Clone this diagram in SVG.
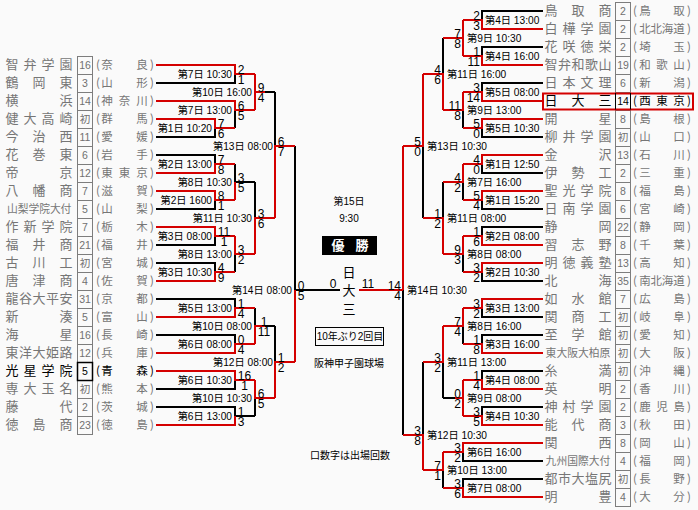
<svg xmlns="http://www.w3.org/2000/svg" width="698" height="510" viewBox="0 0 698 510">
<style>
text{font-family:"Liberation Sans","Noto Sans CJK JP",sans-serif;fill:#000}
.n{font-size:13px;fill:#767676;text-anchor:middle;font-family:"Noto Sans CJK JP",sans-serif}
.n6{font-size:10.8px}
.p{font-size:11.5px;fill:#767676;text-anchor:middle;font-family:"Noto Sans CJK JP",sans-serif}
.c{font-size:10.5px;fill:#707070;text-anchor:middle}
.b{fill:none;stroke:#7d7d7d;stroke-width:1}
.k{fill:none;stroke:#000;stroke-width:1.5}
.d{fill:#000}
.L{stroke:#000;stroke-width:2;fill:none}
.R{stroke:#d40000;stroke-width:2;fill:none}
.m{font-size:10.2px}
.e{text-anchor:end}
.s{font-size:12px}
.t{text-anchor:middle}
.f{font-size:10px;text-anchor:middle}
</style>
<rect width="698" height="510" fill="#fafafa"/>
<g id="connectors">
<path class="L" d="M156 83H235V74M156 137H215V128M235 128V110M265 92H275M156 155H215V164M156 209H215V200M235 164V182H255M156 245H215V236M156 263H215V272M235 272V254M255 182V218M275 92V146M295 146V290H340M156 299H235V308M156 335H235V344M255 308V326H275M156 389H235V380M156 407H235V416H255M255 416V398M275 326V362"/>
<path class="L" d="M543 11H482V20M543 47H482V56M543 83H482V92M543 137H482V128M463 128V110M443 38V74M423 146V218M543 173H482V164M543 209H482V200M463 200V182M543 227H482V236M543 281H482V272M463 272V254M443 182V218M403 290V435M543 317H482V308M543 335H482V344M463 344V326M543 371H482V380M543 407H482V416M455 398H443M443 398V362M543 461H463V452M543 479H463V488M443 488V470M423 362V435"/>
<path class="R" d="M156 65H235V74H255M156 119H215V128H235M156 101H235V110H255M255 74V110M255 92H265M156 173H215V164H235M156 191H215V200H235M235 200V182M156 227H215V236H235M156 281H215V272H235M235 236V254H255M255 254V218H275M275 218V146H295M295 362V290M156 317H235V308H255M156 353H235V344H255M255 344V326H265M156 371H235V380H255M156 425H235V416M255 380V398H275M275 398V362H295"/>
<path class="R" d="M543 29H482V20H463M543 65H482V56H463M463 20V56M463 38H443M542 101H482V92H463M543 119H482V128H463M463 92V110H443M443 110V74H423M423 74V146H403M543 155H482V164H463M543 191H482V200H463M463 164V182H443M543 245H482V236H463M543 263H482V272H463M463 236V254H443M443 254V218H423M403 146V290M359 290H403M543 299H482V308H463M543 353H482V344H463M463 308V326H443M543 389H482V380H463M543 425H482V416H463M463 380V416M463 398H455M443 326V362H423M543 443H463V452H443M543 497H463V488H443M443 452V470H423M423 470V435H403"/>
</g>
<g id="left-teams">
<g id="L01"><rect class="b" x="77.5" y="56.5" width="15" height="18"/><text class="n" x="12 30 48 66" y="69">智弁学園</text><text class="c" x="85" y="69">16</text><text class="p" x="98 107 142 152" y="69">(奈良)</text></g>
<g id="L02"><rect class="b" x="77.5" y="74.5" width="15" height="18"/><text class="n" x="12 39 66" y="87">鶴岡東</text><text class="c" x="85" y="87">3</text><text class="p" x="98 107 142 152" y="87">(山形)</text></g>
<g id="L03"><rect class="b" x="77.5" y="92.5" width="15" height="18"/><text class="n" x="12 66" y="105">横浜</text><text class="c" x="85" y="105">14</text><text class="p" x="98 107 124.5 142 152" y="105">(神奈川)</text></g>
<g id="L04"><rect class="b" x="77.5" y="110.5" width="15" height="18"/><text class="n" x="12 30 48 66" y="123">健大高崎</text><text class="c" x="85" y="123">初</text><text class="p" x="98 107 142 152" y="123">(群馬)</text></g>
<g id="L05"><rect class="b" x="77.5" y="128.5" width="15" height="18"/><text class="n" x="12 39 66" y="141">今治西</text><text class="c" x="85" y="141">11</text><text class="p" x="98 107 142 152" y="141">(愛媛)</text></g>
<g id="L06"><rect class="b" x="77.5" y="146.5" width="15" height="18"/><text class="n" x="12 39 66" y="159">花巻東</text><text class="c" x="85" y="159">6</text><text class="p" x="98 107 142 152" y="159">(岩手)</text></g>
<g id="L07"><rect class="b" x="77.5" y="164.5" width="15" height="18"/><text class="n" x="12 66" y="177">帝京</text><text class="c" x="85" y="177">12</text><text class="p" x="98 107 124.5 142 152" y="177">(東東京)</text></g>
<g id="L08"><rect class="b" x="77.5" y="182.5" width="15" height="18"/><text class="n" x="12 39 66" y="195">八幡商</text><text class="c" x="85" y="195">7</text><text class="p" x="98 107 142 152" y="195">(滋賀)</text></g>
<g id="L09"><rect class="b" x="77.5" y="200.5" width="15" height="18"/><text class="n n6" x="12.5 23.2 33.9 44.6 55.3 66" y="213">山梨学院大付</text><text class="c" x="85" y="213">5</text><text class="p" x="98 107 142 152" y="213">(山梨)</text></g>
<g id="L10"><rect class="b" x="77.5" y="218.5" width="15" height="18"/><text class="n" x="12 30 48 66" y="231">作新学院</text><text class="c" x="85" y="231">7</text><text class="p" x="98 107 142 152" y="231">(栃木)</text></g>
<g id="L11"><rect class="b" x="77.5" y="236.5" width="15" height="18"/><text class="n" x="12 39 66" y="249">福井商</text><text class="c" x="85" y="249">21</text><text class="p" x="98 107 142 152" y="249">(福井)</text></g>
<g id="L12"><rect class="b" x="77.5" y="254.5" width="15" height="18"/><text class="n" x="12 39 66" y="267">古川工</text><text class="c" x="85" y="267">初</text><text class="p" x="98 107 142 152" y="267">(宮城)</text></g>
<g id="L13"><rect class="b" x="77.5" y="272.5" width="15" height="18"/><text class="n" x="12 39 66" y="285">唐津商</text><text class="c" x="85" y="285">4</text><text class="p" x="98 107 142 152" y="285">(佐賀)</text></g>
<g id="L14"><rect class="b" x="77.5" y="290.5" width="15" height="18"/><text class="n" x="12 25.5 39 52.5 66" y="303">龍谷大平安</text><text class="c" x="85" y="303">31</text><text class="p" x="98 107 142 152" y="303">(京都)</text></g>
<g id="L15"><rect class="b" x="77.5" y="308.5" width="15" height="18"/><text class="n" x="12 66" y="321">新湊</text><text class="c" x="85" y="321">5</text><text class="p" x="98 107 142 152" y="321">(富山)</text></g>
<g id="L16"><rect class="b" x="77.5" y="326.5" width="15" height="18"/><text class="n" x="12 66" y="339">海星</text><text class="c" x="85" y="339">16</text><text class="p" x="98 107 142 152" y="339">(長崎)</text></g>
<g id="L17"><rect class="b" x="77.5" y="344.5" width="15" height="18"/><text class="n" x="12 25.5 39 52.5 66" y="357">東洋大姫路</text><text class="c" x="85" y="357">12</text><text class="p" x="98 107 142 152" y="357">(兵庫)</text></g>
<g id="L19"><rect class="b" x="77.5" y="380.5" width="15" height="18"/><text class="n" x="12 30 48 66" y="393">専大玉名</text><text class="c" x="85" y="393">初</text><text class="p" x="98 107 142 152" y="393">(熊本)</text></g>
<g id="L20"><rect class="b" x="77.5" y="398.5" width="15" height="18"/><text class="n" x="12 66" y="411">藤代</text><text class="c" x="85" y="411">2</text><text class="p" x="98 107 142 152" y="411">(茨城)</text></g>
<g id="L21"><rect class="b" x="77.5" y="416.5" width="15" height="18"/><text class="n" x="12 39 66" y="429">徳島商</text><text class="c" x="85" y="429">23</text><text class="p" x="98 107 142 152" y="429">(徳島)</text></g>
<g id="L18"><rect class="k" x="77.5" y="362.5" width="15" height="18"/><text class="n d" x="12 30 48 66" y="375" style="fill:#000">光星学院</text><text class="c" x="85" y="375" style="fill:#000">5</text><text class="p" x="98 107 142 152" y="375" style="fill:#000">(青森)</text></g>
</g>
<g id="right-teams">
<g id="R01"><rect class="b" x="615.5" y="2.5" width="15" height="18"/><text class="n" x="551 578 605" y="15">鳥取商</text><text class="c" x="623" y="15">2</text><text class="p" x="635 645 679 689" y="15">(鳥取)</text></g>
<g id="R02"><rect class="b" x="615.5" y="20.5" width="15" height="18"/><text class="n" x="551 569 587 605" y="33">白樺学園</text><text class="c" x="623" y="33">2</text><text class="p" x="635 645 656.3 667.6 679 689" y="33">(北北海道)</text></g>
<g id="R03"><rect class="b" x="615.5" y="38.5" width="15" height="18"/><text class="n" x="551 569 587 605" y="51">花咲徳栄</text><text class="c" x="623" y="51">2</text><text class="p" x="635 645 679 689" y="51">(埼玉)</text></g>
<g id="R04"><rect class="b" x="615.5" y="56.5" width="15" height="18"/><text class="n" x="551 564.5 578 591.5 605" y="69">智弁和歌山</text><text class="c" x="623" y="69">19</text><text class="p" x="635 645 662 679 689" y="69">(和歌山)</text></g>
<g id="R05"><rect class="b" x="615.5" y="74.5" width="15" height="18"/><text class="n" x="551 569 587 605" y="87">日本文理</text><text class="c" x="623" y="87">6</text><text class="p" x="635 645 679 689" y="87">(新潟)</text></g>
<g id="R07"><rect class="b" x="615.5" y="110.5" width="15" height="18"/><text class="n" x="551 605" y="123">開星</text><text class="c" x="623" y="123">8</text><text class="p" x="635 645 679 689" y="123">(島根)</text></g>
<g id="R08"><rect class="b" x="615.5" y="128.5" width="15" height="18"/><text class="n" x="551 569 587 605" y="141">柳井学園</text><text class="c" x="623" y="141">初</text><text class="p" x="635 645 679 689" y="141">(山口)</text></g>
<g id="R09"><rect class="b" x="615.5" y="146.5" width="15" height="18"/><text class="n" x="551 605" y="159">金沢</text><text class="c" x="623" y="159">13</text><text class="p" x="635 645 679 689" y="159">(石川)</text></g>
<g id="R10"><rect class="b" x="615.5" y="164.5" width="15" height="18"/><text class="n" x="551 578 605" y="177">伊勢工</text><text class="c" x="623" y="177">2</text><text class="p" x="635 645 679 689" y="177">(三重)</text></g>
<g id="R11"><rect class="b" x="615.5" y="182.5" width="15" height="18"/><text class="n" x="551 569 587 605" y="195">聖光学院</text><text class="c" x="623" y="195">8</text><text class="p" x="635 645 679 689" y="195">(福島)</text></g>
<g id="R12"><rect class="b" x="615.5" y="200.5" width="15" height="18"/><text class="n" x="551 569 587 605" y="213">日南学園</text><text class="c" x="623" y="213">6</text><text class="p" x="635 645 679 689" y="213">(宮崎)</text></g>
<g id="R13"><rect class="b" x="615.5" y="218.5" width="15" height="18"/><text class="n" x="551 605" y="231">静岡</text><text class="c" x="623" y="231">22</text><text class="p" x="635 645 679 689" y="231">(静岡)</text></g>
<g id="R14"><rect class="b" x="615.5" y="236.5" width="15" height="18"/><text class="n" x="551 578 605" y="249">習志野</text><text class="c" x="623" y="249">8</text><text class="p" x="635 645 679 689" y="249">(千葉)</text></g>
<g id="R15"><rect class="b" x="615.5" y="254.5" width="15" height="18"/><text class="n" x="551 569 587 605" y="267">明徳義塾</text><text class="c" x="623" y="267">13</text><text class="p" x="635 645 679 689" y="267">(高知)</text></g>
<g id="R16"><rect class="b" x="615.5" y="272.5" width="15" height="18"/><text class="n" x="551 605" y="285">北海</text><text class="c" x="623" y="285">35</text><text class="p" x="635 645 656.3 667.6 679 689" y="285">(南北海道)</text></g>
<g id="R17"><rect class="b" x="615.5" y="290.5" width="15" height="18"/><text class="n" x="551 578 605" y="303">如水館</text><text class="c" x="623" y="303">7</text><text class="p" x="635 645 679 689" y="303">(広島)</text></g>
<g id="R18"><rect class="b" x="615.5" y="308.5" width="15" height="18"/><text class="n" x="551 578 605" y="321">関商工</text><text class="c" x="623" y="321">初</text><text class="p" x="635 645 679 689" y="321">(岐阜)</text></g>
<g id="R19"><rect class="b" x="615.5" y="326.5" width="15" height="18"/><text class="n" x="551 578 605" y="339">至学館</text><text class="c" x="623" y="339">初</text><text class="p" x="635 645 679 689" y="339">(愛知)</text></g>
<g id="R20"><rect class="b" x="615.5" y="344.5" width="15" height="18"/><text class="n n6" x="551 561.8 572.6 583.4 594.2 605" y="357">東大阪大柏原</text><text class="c" x="623" y="357">初</text><text class="p" x="635 645 679 689" y="357">(大阪)</text></g>
<g id="R21"><rect class="b" x="615.5" y="362.5" width="15" height="18"/><text class="n" x="551 605" y="375">糸満</text><text class="c" x="623" y="375">初</text><text class="p" x="635 645 679 689" y="375">(沖縄)</text></g>
<g id="R22"><rect class="b" x="615.5" y="380.5" width="15" height="18"/><text class="n" x="551 605" y="393">英明</text><text class="c" x="623" y="393">2</text><text class="p" x="635 645 679 689" y="393">(香川)</text></g>
<g id="R23"><rect class="b" x="615.5" y="398.5" width="15" height="18"/><text class="n" x="551 569 587 605" y="411">神村学園</text><text class="c" x="623" y="411">2</text><text class="p" x="635 645 662 679 689" y="411">(鹿児島)</text></g>
<g id="R24"><rect class="b" x="615.5" y="416.5" width="15" height="18"/><text class="n" x="551 578 605" y="429">能代商</text><text class="c" x="623" y="429">3</text><text class="p" x="635 645 679 689" y="429">(秋田)</text></g>
<g id="R25"><rect class="b" x="615.5" y="434.5" width="15" height="18"/><text class="n" x="551 605" y="447">関西</text><text class="c" x="623" y="447">8</text><text class="p" x="635 645 679 689" y="447">(岡山)</text></g>
<g id="R26"><rect class="b" x="615.5" y="452.5" width="15" height="18"/><text class="n n6" x="551 561.8 572.6 583.4 594.2 605" y="465">九州国際大付</text><text class="c" x="623" y="465">4</text><text class="p" x="635 645 679 689" y="465">(福岡)</text></g>
<g id="R27"><rect class="b" x="615.5" y="470.5" width="15" height="18"/><text class="n" x="551 564.5 578 591.5 605" y="483">都市大塩尻</text><text class="c" x="623" y="483">初</text><text class="p" x="635 645 679 689" y="483">(長野)</text></g>
<g id="R28"><rect class="b" x="615.5" y="488.5" width="15" height="18"/><text class="n" x="551 605" y="501">明豊</text><text class="c" x="623" y="501">4</text><text class="p" x="635 645 679 689" y="501">(大分)</text></g>
<g id="R06"><rect x="543" y="93.5" width="150" height="16" fill="none" stroke="#d40000" stroke-width="2"/><path d="M615.5 93V109.5M630.5 93V109.5" stroke="#000" stroke-width="1" fill="none"/><text class="n" x="551 578 605" y="105" style="fill:#000">日大三</text><text class="c" x="623" y="105" style="fill:#000">14</text><text class="p" x="635 645 662 679 689" y="105" style="fill:#000">(西東京)</text></g>
</g>
<g id="match-labels" class="m">
<text class="e" x="232" y="78">第7日 10:30</text>
<text class="e" x="212" y="132">第1日 10:20</text>
<text class="e" x="232" y="114">第7日 13:00</text>
<text class="e" x="252" y="96">第10日 16:00</text>
<text class="e" x="212" y="168">第2日 13:00</text>
<text class="e" x="212" y="204">第2日 1600</text>
<text class="e" x="232" y="186">第8日 10:30</text>
<text class="e" x="212" y="240">第3日 08:00</text>
<text class="e" x="212" y="276">第3日 10:30</text>
<text class="e" x="232" y="258">第8日 13:00</text>
<text class="e" x="252" y="222">第11日 10:30</text>
<text class="e" x="273" y="150">第13日 08:00</text>
<text class="e" x="292" y="294">第14日 08:00</text>
<text class="e" x="232" y="312">第5日 13:00</text>
<text class="e" x="232" y="348">第6日 08:00</text>
<text class="e" x="252" y="330">第10日 08:00</text>
<text class="e" x="232" y="384">第6日 10:30</text>
<text class="e" x="232" y="420">第6日 13:00</text>
<text class="e" x="252" y="402">第10日 10:30</text>
<text class="e" x="273" y="366">第12日 08:00</text>
<text x="485" y="24">第4日 13:00</text>
<text x="485" y="60">第4日 16:00</text>
<text x="467" y="42">第9日 10:30</text>
<text x="485" y="96">第5日 08:00</text>
<text x="485" y="132">第5日 10:30</text>
<text x="467" y="114">第9日 13:00</text>
<text x="447" y="78">第11日 16:00</text>
<text x="427" y="150">第13日 10:30</text>
<text x="485" y="168">第1日 12:50</text>
<text x="485" y="204">第1日 15:20</text>
<text x="467" y="186">第7日 16:00</text>
<text x="485" y="240">第2日 08:00</text>
<text x="485" y="276">第2日 10:30</text>
<text x="467" y="258">第8日 08:00</text>
<text x="447" y="222">第11日 08:00</text>
<text x="407" y="294">第14日 10:30</text>
<text x="485" y="312">第3日 13:00</text>
<text x="485" y="348">第3日 16:00</text>
<text x="467" y="330">第8日 16:00</text>
<text x="485" y="384">第4日 08:00</text>
<text x="485" y="420">第4日 10:30</text>
<text x="467" y="402">第9日 08:00</text>
<text x="447" y="366">第11日 13:00</text>
<text x="467" y="456">第6日 16:00</text>
<text x="467" y="492">第7日 08:00</text>
<text x="447" y="474">第10日 13:00</text>
<text x="427" y="439">第12日 10:30</text>
</g>
<g id="scores" class="s">
<g class="t">
<text x="241" y="73.5">2</text><text x="241" y="84">1</text>
<text x="221" y="127.5">7</text><text x="221" y="138">6</text>
<text x="241" y="109.5">6</text><text x="241" y="120">5</text>
<text x="261" y="91.5">9</text><text x="261" y="102">4</text>
<text x="221" y="163.5">7</text><text x="221" y="174">8</text>
<text x="221" y="199.5">8</text><text x="221" y="210">1</text>
<text x="241" y="181.5">3</text><text x="241" y="192">5</text>
<text x="224" y="235.5">11</text><text x="224" y="246">1</text>
<text x="221" y="271.5">4</text><text x="221" y="282">9</text>
<text x="241" y="253.5">3</text><text x="241" y="264">2</text>
<text x="261" y="217.5">3</text><text x="261" y="228">6</text>
<text x="281" y="145.5">6</text><text x="281" y="156">7</text>
<text x="301" y="289.5">0</text><text x="301" y="300">5</text>
<text x="241" y="307.5">1</text><text x="241" y="318">4</text>
<text x="241" y="343.5">0</text><text x="241" y="354">4</text>
<text x="264" y="325.5">1</text><text x="264" y="336">11</text>
<text x="244.5" y="379.5">16</text><text x="244.5" y="390">1</text>
<text x="241" y="415.5">1</text><text x="241" y="426">3</text>
<text x="261" y="397.5">6</text><text x="261" y="408">5</text>
<text x="281" y="361.5">1</text><text x="281" y="372">2</text>
<text x="333" y="288">0</text><text x="368" y="288">11</text>
</g>
<g class="e">
<text x="480" y="19.5">2</text><text x="480" y="30">3</text>
<text x="480" y="55.5">1</text><text x="480" y="66">11</text>
<text x="461" y="37.5">7</text><text x="461" y="48">8</text>
<text x="480" y="91.5">3</text><text x="480" y="102">14</text>
<text x="480" y="127.5">5</text><text x="480" y="138">0</text>
<text x="461" y="109.5">11</text><text x="461" y="120">8</text>
<text x="441" y="73.5">4</text><text x="441" y="84">6</text>
<text x="421" y="145.5">5</text><text x="421" y="156">0</text>
<text x="480" y="163.5">4</text><text x="480" y="174">0</text>
<text x="480" y="199.5">5</text><text x="480" y="210">4</text>
<text x="461" y="181.5">4</text><text x="461" y="192">2</text>
<text x="480" y="235.5">1</text><text x="480" y="246">6</text>
<text x="480" y="271.5">3</text><text x="480" y="282">2</text>
<text x="461" y="253.5">9</text><text x="461" y="264">3</text>
<text x="441" y="217.5">1</text><text x="441" y="228">2</text>
<text x="401" y="289.5">14</text><text x="401" y="300">4</text>
<text x="480" y="307.5">3</text><text x="480" y="318">2</text>
<text x="480" y="343.5">1</text><text x="480" y="354">8</text>
<text x="461" y="325.5">7</text><text x="461" y="336">4</text>
<text x="480" y="379.5">1</text><text x="480" y="390">4</text>
<text x="480" y="415.5">3</text><text x="480" y="426">5</text>
<text x="461" y="397.5">0</text><text x="461" y="408">2</text>
<text x="441" y="361.5">3</text><text x="441" y="372">2</text>
<text x="421" y="434.5">3</text><text x="421" y="445">8</text>
<text x="461" y="451.5">3</text><text x="461" y="462">2</text>
<text x="461" y="487.5">3</text><text x="461" y="498">6</text>
<text x="441" y="469.5">7</text><text x="441" y="480">1</text>
</g>
</g>
<g id="center">
<text class="f" x="349" y="205">第15日</text>
<text class="f" x="349" y="222">9:30</text>
<rect x="322" y="236" width="55" height="19" fill="#000"/>
<text x="338 362" y="250" style="font-size:13px;font-weight:bold;fill:#fff;text-anchor:middle">優勝</text>
<text x="349" y="277" style="font-size:13px;text-anchor:middle">日</text>
<text x="349" y="295" style="font-size:13px;text-anchor:middle">大</text>
<text x="349" y="314" style="font-size:13px;text-anchor:middle">三</text>
<rect x="315.5" y="327.5" width="68" height="18" fill="none" stroke="#000"/>
<text class="f" x="350" y="340">10年ぶり2回目</text>
<text class="f" x="349" y="367">阪神甲子園球場</text>
<text class="f" x="350" y="459">口数字は出場回数</text>
</g>
</svg>
